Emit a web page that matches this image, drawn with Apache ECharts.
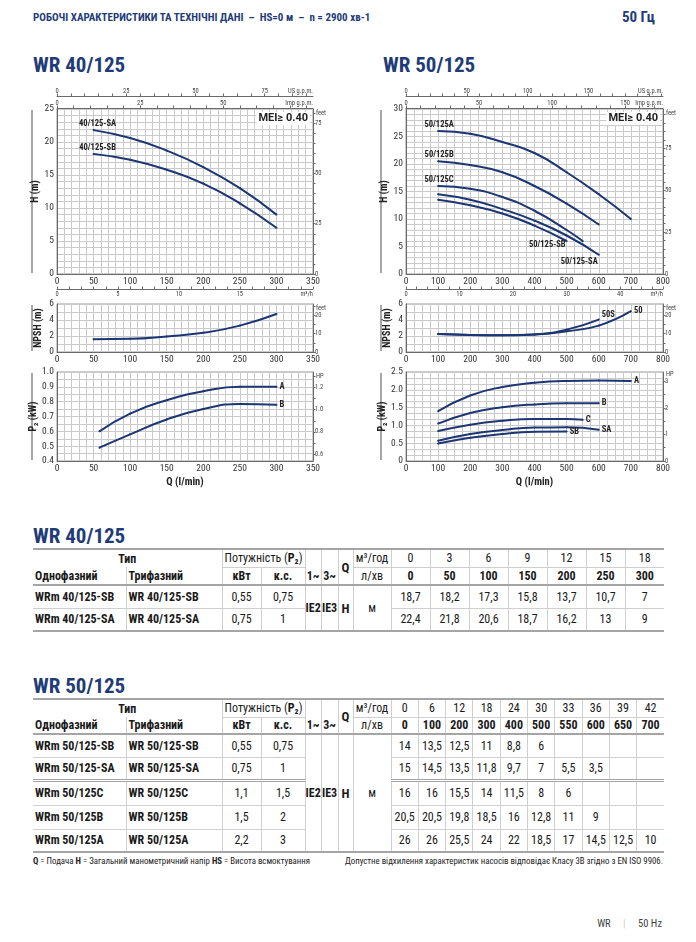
<!DOCTYPE html>
<html>
<head>
<meta charset="utf-8">
<script src="https://cdn.jsdelivr.net/npm/echarts@6/dist/echarts.min.js"></script>
<style>
  body { margin: 0; background: #fff; }
  #page { position: relative; width: 696px; height: 942px; overflow: hidden;
    font-family: 'Liberation Sans Narrow', 'Roboto Condensed', Roboto, sans-serif; color: #1a1a1a; }
  #chart { position: absolute; left: 0; top: 0; width: 696px; height: 500px; }
  .t { position: absolute; white-space: nowrap; color: #1f3c78; font-weight: bold; }
  table { position: absolute; border-collapse: collapse; table-layout: fixed; font-size: 12px;
    border-top: 2px solid #a5a5a5; border-bottom: 2px solid #a5a5a5; }
  td { padding: 0; text-align: center; white-space: nowrap; overflow: hidden;
    border-left: 1px solid #cfcfcf; border-bottom: 1px solid #cfcfcf; }
  td:first-child { border-left: none; }
  td.b { font-weight: bold; }
  td.l { text-align: left; padding-left: 2px; }
  td.nb { border-bottom: none; }
  tr.hb td, td.hb { border-bottom: 2px solid #a5a5a5; }
  tr.sep td.v { border-top: 3px double #a5a5a5; }
  .note { position: absolute; top: 856px; font-size: 8.8px; color: #222; white-space: nowrap; }
</style>
</head>
<body>
<div id="page">
  <div class="t" style="left:33px;top:11px;font-size:11px">РОБОЧІ ХАРАКТЕРИСТИКИ ТА ТЕХНІЧНІ ДАНІ &nbsp;– &nbsp;HS=0 м &nbsp;– &nbsp;n = 2900 хв-1</div>
  <div class="t" style="left:622px;top:8px;font-size:15px">50 Гц</div>
  <div class="t" style="left:33px;top:53px;font-size:21px">WR 40/125</div>
  <div class="t" style="left:383px;top:53px;font-size:21px">WR 50/125</div>
  <div id="chart"></div>
  <div class="t" style="left:33px;top:524px;font-size:21px">WR 40/125</div>
  <div class="t" style="left:33px;top:674px;font-size:21px">WR 50/125</div>
  <div id="tables"></div>
  <div class="note" style="left:33px"><b>Q</b> = Подача <b>H</b> = Загальний манометричний напір <b>HS</b> = Висота всмоктування</div>
  <div class="note" style="right:33px">Допустне відхилення характеристик насосів відповідає Класу 3В згідно з EN ISO 9906.</div>
  <div style="position:absolute;right:34px;top:917px;font-size:10.5px;color:#444;white-space:nowrap">WR <span style="color:#ccc;margin:0 10px">|</span> 50 Hz</div>
</div>
<script>
// ---- WR 40/125 ----
const q40m3 = [0, 3, 6, 9, 12, 15, 18];
const q40 = [0, 50, 100, 150, 200, 250, 300];
const h40SB = [18.7, 18.2, 17.3, 15.8, 13.7, 10.7, 7];
const h40SA = [22.4, 21.8, 20.6, 18.7, 16.2, 13, 9];
const npshQ40 = [50, 100, 150, 200, 250, 300];
const npsh40 = [1.6, 1.65, 1.95, 2.4, 3.3, 4.75];
const p2Q40 = [58, 100, 150, 200, 250, 300];
const p2A40 = [0.6, 0.72, 0.81, 0.87, 0.9, 0.9];
const p2B40 = [0.49, 0.58, 0.68, 0.75, 0.785, 0.78];
const models40 = ['40/125-SB', '40/125-SA'];
const kw40 = [0.55, 0.75];
const hp40 = [0.75, 1];

// ---- WR 50/125 ----
const q50m3 = [0, 6, 12, 18, 24, 30, 33, 36, 39, 42];
const q50 = [0, 100, 200, 300, 400, 500, 550, 600, 650, 700];
const h50SB = [14, 13.5, 12.5, 11, 8.8, 6];
const h50SA = [15, 14.5, 13.5, 11.8, 9.7, 7, 5.5, 3.5];
const h50C = [16, 16, 15.5, 14, 11.5, 8, 6];
const h50B = [20.5, 20.5, 19.8, 18.5, 16, 12.8, 11, 9];
const h50A = [26, 26, 25.5, 24, 22, 18.5, 17, 14.5, 12.5, 10];
const npshQ50 = [100, 200, 300, 400, 500, 600, 700];
const npsh50 = [2.25, 2.12, 2.08, 2.18, 2.6, 3.3, 5.1];
const npsh50S = [2.25, 2.12, 2.08, 2.2, 2.8, 4.05];
const p2Q50 = [100, 200, 300, 400, 500, 550, 600, 700];
const p2A50 = [1.4, 1.84, 2.08, 2.2, 2.25, null, 2.26, 2.25];
const p2B50 = [1.05, 1.35, 1.51, 1.59, 1.62, null, 1.62];
const p2C50 = [0.84, 1.02, 1.13, 1.18, 1.18, 1.16];
const p2SA50 = [0.57, 0.76, 0.87, 0.94, 0.945, null, 0.88];
const p2SB50 = [0.49, 0.65, 0.76, 0.82, 0.83];
const models50 = ['50/125-SB', '50/125-SA', '50/125C', '50/125B', '50/125A'];
const kw50 = [0.55, 0.75, 1.1, 1.5, 2.2];
const hp50 = [0.75, 1, 1.5, 2, 3];

// axis tick labels
const usTicks40 = [0, 25, 50, 75], impTicks40 = [0, 25, 50];
const usTicks50 = [0, 50, 100, 150], impTicks50 = [0, 50, 100, 150];
const m3Ticks40 = [0, 5, 10, 15], m3Ticks50 = [0, 10, 20, 30, 40];
const feetTicksH = [0, 25, 50, 75], feetTicksN = [0, 10, 20];
const hpTicks40 = [0.6, 0.8, 1.0, 1.2], hpTicks50 = [0, 1, 2, 3];

const USG = 3.785411784, IMPG = 4.54609, FT = 3.28084, HPKW = 0.7457;
const navy = '#1c3674', axisGray = '#6a6a6a', gridLine = '#cacaca';
const cond = "'Liberation Sans Narrow','Roboto Condensed',Roboto,sans-serif";

const G = [
  { left: 57, top: 109, width: 256, height: 165 },
  { left: 57, top: 304, width: 256, height: 48 },
  { left: 57, top: 372, width: 256, height: 89 },
  { left: 406, top: 109, width: 257, height: 165 },
  { left: 406, top: 304, width: 257, height: 48 },
  { left: 406, top: 372, width: 257, height: 89 }
];

const xAxis = [], yAxis = [], series = [], graphic = [];

function steps(min, max, step) {
  const out = [];
  for (let v = Math.ceil(min / step - 1e-9) * step; v <= max + 1e-9; v += step) out.push(+v.toFixed(4));
  return out;
}

function qAxis(gi, max, step, minor, name) {
  xAxis.push({
    type: 'value', gridIndex: gi, min: 0, max: max, interval: step,
    axisLine: { show: true, onZero: false, lineStyle: { color: axisGray } },
    axisTick: { show: false },
    axisLabel: { fontSize: 9.5, color: '#333', margin: 3, fontFamily: cond },
    splitLine: { show: true, lineStyle: { color: gridLine } },
    minorTick: { show: false, splitNumber: minor },
    minorSplitLine: { show: true, lineStyle: { color: gridLine } },
    name: name || '', nameLocation: 'middle', nameGap: 16,
    nameTextStyle: { fontSize: 10.5, fontWeight: 'bold', color: '#222', fontFamily: cond }
  });
  return xAxis.length - 1;
}

function topAxis(gi, max, labels, tickStep, offset, name, inside) {
  xAxis.push({
    type: 'value', gridIndex: gi, position: 'top', offset: offset, min: 0, max: max,
    axisLine: { show: true, onZero: false, lineStyle: { color: axisGray } },
    axisTick: { show: true, inside: false, length: 2.5, customValues: steps(0, max, tickStep), lineStyle: { color: axisGray } },
    axisLabel: { customValues: labels, inside: inside, fontSize: 6.5, margin: inside ? 2 : 1.5, color: '#444', fontFamily: cond },
    splitLine: { show: false },
    name: name, nameLocation: 'end', nameGap: 0,
    nameTextStyle: { align: 'right', verticalAlign: inside ? 'top' : 'bottom', fontSize: 6.5, color: '#444',
      padding: inside ? [2, 0, 0, 0] : [0, 0, 1, 0], fontFamily: cond }
  });
}

function mainY(gi, min, max, step, minor, name, fmt) {
  yAxis.push({
    type: 'value', gridIndex: gi, min: min, max: max, interval: step,
    axisLine: { show: true, onZero: false, lineStyle: { color: axisGray } },
    axisTick: { show: false },
    axisLabel: { fontSize: 9.5, color: '#333', margin: 3, fontFamily: cond, formatter: fmt },
    splitLine: { show: true, lineStyle: { color: gridLine } },
    minorTick: { show: false, splitNumber: minor },
    minorSplitLine: { show: true, lineStyle: { color: gridLine } },
    name: name, nameLocation: 'middle', nameGap: 14, nameRotate: 90,
    nameTextStyle: { fontSize: 10, fontWeight: 'bold', color: '#222', fontFamily: cond }
  });
  return yAxis.length - 1;
}

function sideY(gi, min, max, labels, tickStep, name, fmt) {
  yAxis.push({
    type: 'value', gridIndex: gi, position: 'right', min: min, max: max,
    axisLine: { show: true, onZero: false, lineStyle: { color: axisGray } },
    axisTick: { show: true, inside: false, length: 2.5, customValues: steps(min, max, tickStep), lineStyle: { color: axisGray } },
    axisLabel: { customValues: labels, fontSize: 6.5, margin: 2, color: '#444', fontFamily: cond, formatter: fmt },
    splitLine: { show: false },
    name: name, nameLocation: 'end', nameGap: -1,
    nameTextStyle: { align: 'left', verticalAlign: 'top', padding: [0, 0, 0, 3], fontSize: 6.5, color: '#444', fontFamily: cond }
  });
}

// step: keep only flows on this step (plus the last point) so rounded table values draw a smooth curve
function curve(xi, yi, q, v, text, lab, step) {
  const pts = [];
  q.forEach((x, i) => {
    if (v[i] == null) return;
    if (step && x % step !== 0 && i !== v.length - 1) return;
    pts.push([x, v[i]]);
  });
  const at = lab.at === 'end' ? pts.length - 1 : 0;
  series.push({
    type: 'line', xAxisIndex: xi, yAxisIndex: yi, smooth: 0.5,
    symbol: 'circle', symbolSize: 2, showSymbol: true, silent: true, animation: false,
    lineStyle: { color: navy, width: 2 }, itemStyle: { color: navy },
    data: pts,
    label: { show: true, formatter: p => p.dataIndex === at ? text : '', position: lab.pos,
      distance: lab.dist == null ? 2 : lab.dist, offset: lab.off || [0, 0],
      fontSize: 8.5, fontWeight: 'bold', color: '#222', fontFamily: cond }
  });
}

const fmt1 = v => v.toFixed(1);
const fmtP50 = v => v === 0 ? '0' : v.toFixed(1);

// ---- WR 40/125 charts ----
let xH40 = qAxis(0, 350, 50, 5);
topAxis(0, 350 / USG, usTicks40, 5, 13, 'US g.p.m.', false);
topAxis(0, 350 / IMPG, impTicks40, 5, 1, 'Imp g.p.m.', false);
let yH40 = mainY(0, 0, 25, 5, 5, 'H (m)');
sideY(0, 0, 25 * FT, feetTicksH, 5, 'feet');
curve(xH40, yH40, q40.slice(1), h40SA.slice(1), '40/125-SA', { at: 'start', pos: 'top', dist: 1, off: [4, 0] });
curve(xH40, yH40, q40.slice(1), h40SB.slice(1), '40/125-SB', { at: 'start', pos: 'top', dist: 1, off: [4, 0] });

let xN40 = qAxis(1, 350, 50, 5);
topAxis(1, 350 * 0.06, m3Ticks40, 1, 15, 'm³/h', true);
let yN40 = mainY(1, 0, 6, 2, 2, 'NPSH (m)');
sideY(1, 0, 26, feetTicksN, 5, 'feet');
curve(xN40, yN40, npshQ40, npsh40, '', { at: 'end', pos: 'right' });

let xP40 = qAxis(2, 350, 50, 5, 'Q (l/min)');
let yP40 = mainY(2, 0.4, 1.0, 0.1, 2, 'P₂ (kW)', fmt1);
sideY(2, 0.4 / HPKW, 1.0 / HPKW, hpTicks40, 0.1, 'HP', fmt1);
curve(xP40, yP40, p2Q40, p2A40, 'A', { at: 'end', pos: 'right', dist: 2 });
curve(xP40, yP40, p2Q40, p2B40, 'B', { at: 'end', pos: 'right', dist: 2 });

// ---- WR 50/125 charts ----
let xH50 = qAxis(3, 800, 100, 4);
topAxis(3, 800 / USG, usTicks50, 10, 13, 'US g.p.m.', false);
topAxis(3, 800 / IMPG, impTicks50, 10, 1, 'Imp g.p.m.', false);
let yH50 = mainY(3, 0, 30, 5, 5, 'H (m)');
sideY(3, 0, 30 * FT, feetTicksH, 5, 'feet');
curve(xH50, yH50, q50.slice(1), h50A.slice(1), '50/125A', { at: 'start', pos: 'top', dist: 1, off: [1, 0] }, 100);
curve(xH50, yH50, q50.slice(1), h50B.slice(1), '50/125B', { at: 'start', pos: 'top', dist: 1, off: [1, 0] }, 100);
curve(xH50, yH50, q50.slice(1), h50C.slice(1), '50/125C', { at: 'start', pos: 'top', dist: 1, off: [1, 0] }, 100);
curve(xH50, yH50, q50.slice(1), h50SA.slice(1), '50/125-SA', { at: 'end', pos: 'left', dist: 0, off: [0, 7] }, 100);
curve(xH50, yH50, q50.slice(1), h50SB.slice(1), '50/125-SB', { at: 'end', pos: 'left', dist: 0, off: [0, 4] }, 100);

let xN50 = qAxis(4, 800, 100, 4);
topAxis(4, 800 * 0.06, m3Ticks50, 2, 15, 'm³/h', true);
let yN50 = mainY(4, 0, 6, 2, 2, 'NPSH (m)');
sideY(4, 0, 26, feetTicksN, 5, 'feet');
curve(xN50, yN50, npshQ50, npsh50, '50', { at: 'end', pos: 'right', dist: 2 });
curve(xN50, yN50, npshQ50, npsh50S, '50S', { at: 'end', pos: 'right', dist: 2, off: [0, -5] });

let xP50 = qAxis(5, 800, 100, 4, 'Q (l/min)');
let yP50 = mainY(5, 0, 2.5, 0.5, 3, 'P₂ (kW)', fmtP50);
sideY(5, 0, 2.5 / HPKW, hpTicks50, 0.5, 'HP');
curve(xP50, yP50, p2Q50, p2A50, 'A', { at: 'end', pos: 'right', dist: 2 });
curve(xP50, yP50, p2Q50, p2B50, 'B', { at: 'end', pos: 'right', dist: 2 });
curve(xP50, yP50, p2Q50, p2C50, 'C', { at: 'end', pos: 'right', dist: 2 });
curve(xP50, yP50, p2Q50, p2SA50, 'SA', { at: 'end', pos: 'right', dist: 2 });
curve(xP50, yP50, p2Q50, p2SB50, 'SB', { at: 'end', pos: 'right', dist: 2 });

// side bars and MEI boxes
G.forEach(g => graphic.push({ type: 'line', silent: true,
  shape: { x1: g.left - 25, y1: g.top + 1, x2: g.left - 25, y2: g.top + g.height - 1 },
  style: { stroke: '#777', lineWidth: 1.3 } }));
[0, 3].forEach(i => graphic.push({ type: 'text', z: 100, silent: true,
  x: G[i].left + G[i].width - 3, y: G[i].top + 3,
  style: { text: 'MEI≥ 0.40', align: 'right', verticalAlign: 'top', font: 'bold 11px Roboto, sans-serif',
    fill: '#222', backgroundColor: '#fff', padding: [1, 2] } }));

const chart = echarts.init(document.getElementById('chart'), null, { renderer: 'canvas' });
chart.setOption({
  animation: false,
  grid: G.map(g => Object.assign({ show: true, borderColor: '#999', borderWidth: 1, backgroundColor: '#fff' }, g)),
  xAxis: xAxis,
  yAxis: yAxis,
  series: series,
  graphic: graphic
});

// ---- tables ----
const num = v => v == null ? '' : String(v).replace('.', ',');

function buildTable(top, rh, qm3, ql, models, kw, hp, heads, sepRow) {
  const cols = [93, 96, 39, 44, 16, 17, 15, 38];
  const vw = 273 / qm3.length;
  let h = `<table style="left:33px;top:${top}px;width:631px"><colgroup>`;
  cols.forEach(w => h += `<col style="width:${w}px">`);
  qm3.forEach(() => h += `<col style="width:${vw}px">`);
  h += '</colgroup>';
  h += `<tr style="height:${rh[0]}px"><td colspan="2" class="b nb">Тип</td><td colspan="2">Потужність (<b>P₂</b>)</td>` +
       `<td class="nb"></td><td class="nb"></td><td rowspan="2" class="b hb" style="font-size:13px">Q</td><td>м³/год</td>`;
  qm3.forEach(v => h += `<td>${v}</td>`);
  h += '</tr>';
  h += `<tr class="hb" style="height:${rh[1]}px"><td class="b l">Однофазний</td><td class="b l">Трифазний</td>` +
       `<td class="b">кВт</td><td class="b">к.с.</td><td class="b">1~</td><td class="b">3~</td><td>л/хв</td>`;
  ql.forEach(v => h += `<td class="b">${v}</td>`);
  h += '</tr>';
  models.forEach((m, r) => {
    h += `<tr style="height:${rh[r + 2]}px"${r === sepRow ? ' class="sep"' : ''}>` +
         `<td class="b l v">WRm ${m}</td><td class="b l v">WR ${m}</td><td class="v">${num(kw[r])}</td><td class="v">${num(hp[r])}</td>`;
    if (r === 0) {
      const n = models.length;
      h += `<td rowspan="${n}" class="b">IE2</td><td rowspan="${n}" class="b">IE3</td>` +
           `<td rowspan="${n}" class="b" style="font-size:13px">H</td><td rowspan="${n}">м</td>`;
    }
    qm3.forEach((_, i) => h += `<td class="v">${num(heads[r][i])}</td>`);
    h += '</tr>';
  });
  return h + '</table>';
}

document.getElementById('tables').innerHTML =
  buildTable(548, [18, 18, 23, 23], q40m3, q40, models40, kw40, hp40, [h40SB, h40SA], -1) +
  buildTable(698, [18, 17, 23, 23, 25, 24, 23], q50m3, q50, models50, kw50, hp50, [h50SB, h50SA, h50C, h50B, h50A], 2);
</script>
</body>
</html>
